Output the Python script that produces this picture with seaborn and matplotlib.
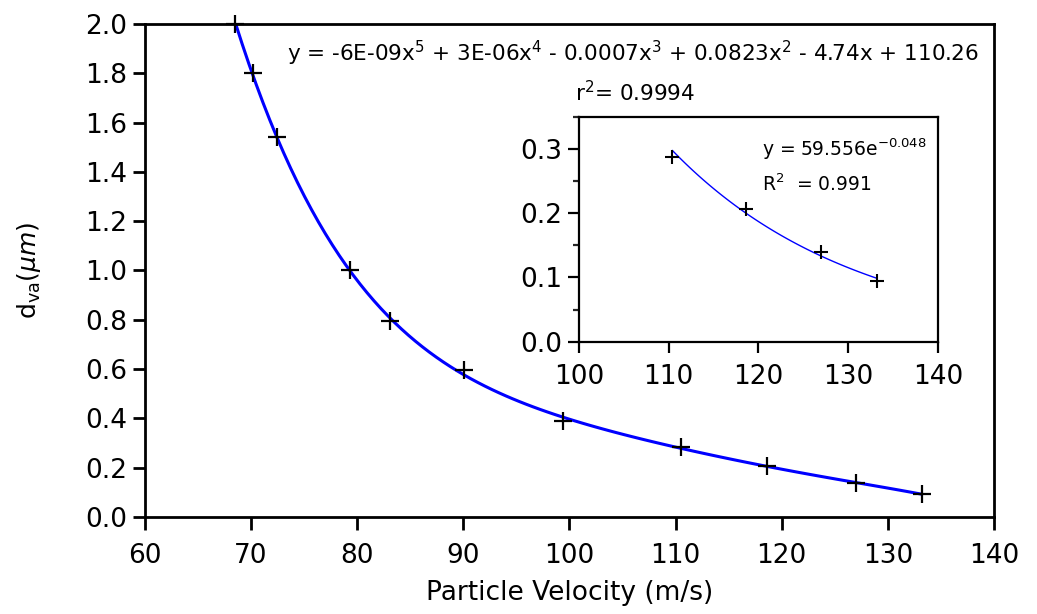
import numpy as np
import pandas as pd
import matplotlib
matplotlib.use("Agg")
import matplotlib.pyplot as plt
from matplotlib.ticker import MultipleLocator
import seaborn as sns

# ---- data ----
velocity = [68.5, 70.2, 72.4, 79.3, 83.1, 90.1, 99.4, 110.5, 118.6, 127.0, 133.2]
dva = [2.0, 1.80, 1.54, 1.0, 0.795, 0.595, 0.39, 0.285, 0.205, 0.138, 0.093]
inset_velocity = [110.4, 118.6, 127.0, 133.2]
inset_dva = [0.288, 0.206, 0.140, 0.094]

main_eq = (r"y = -6E-09x$^{5}$ + 3E-06x$^{4}$ - 0.0007x$^{3}$ + 0.0823x$^{2}$"
           r" - 4.74x + 110.26")
main_r2 = r"r$^{2}$= 0.9994"
inset_eq = r"y = 59.556e$^{-0.048}$"
inset_r2 = r"R$^{2}$  = 0.991"

sns.set_theme(style="ticks")
plt.rcParams["font.family"] = ["DejaVu Sans"]
plt.rcParams["mathtext.fontset"] = "dejavusans"
plt.rcParams["mathtext.default"] = "regular"
plt.rcParams["text.color"] = "black"
plt.rcParams["axes.labelcolor"] = "black"

fig = plt.figure(figsize=(10.37, 6.14), dpi=100)
ax = fig.add_axes([0.1398, 0.158, 0.8187, 0.803])

df = pd.DataFrame({"v": velocity, "d": dva})
sns.regplot(data=df, x="v", y="d", order=5, ci=None, scatter=False, truncate=True,
            line_kws=dict(color="#0000ff", lw=2.2), ax=ax)
sns.scatterplot(data=df, x="v", y="d", marker="+", s=150, color="black",
                linewidth=1.6, ax=ax, zorder=5, clip_on=False)

ax.set_xlim(60, 140)
ax.set_ylim(0, 2.0)
ax.xaxis.set_major_locator(MultipleLocator(10))
ax.yaxis.set_major_locator(MultipleLocator(0.2))
ax.yaxis.set_major_formatter(matplotlib.ticker.FormatStrFormatter("%.1f"))
for s in ax.spines.values():
    s.set_linewidth(2.0)
    s.set_color("black")
ax.tick_params(axis="both", direction="out", length=9, width=2, labelsize=19,
               colors="black", pad=4)
ax.tick_params(axis="x", pad=10)
ax.set_xlabel("Particle Velocity (m/s)", fontsize=19, labelpad=8)
ax.set_ylabel(r"d$_{va}$($\mathit{\mu m}$)", fontsize=18, labelpad=30)

ax.text(0.575, 0.94, main_eq, transform=ax.transAxes, fontsize=15.5,
        ha="center", va="center")
ax.text(0.506, 0.86, main_r2, transform=ax.transAxes, fontsize=15.5,
        ha="left", va="center")

# ---- inset ----
ins = fig.add_axes([0.5583, 0.4435, 0.3462, 0.3665])
b, ln_a = np.polyfit(inset_velocity, np.log(inset_dva), 1)
xs = np.linspace(min(inset_velocity), max(inset_velocity), 100)
sns.lineplot(x=xs, y=np.exp(ln_a) * np.exp(b * xs), color="#0000ff", lw=1.0, ax=ins)
sns.scatterplot(x=inset_velocity, y=inset_dva, marker="+", s=100, color="black",
                linewidth=1.5, ax=ins, zorder=5)
ins.set_xlim(100, 140)
ins.set_ylim(0, 0.35)
ins.xaxis.set_major_locator(MultipleLocator(10))
ins.yaxis.set_major_locator(MultipleLocator(0.1))
ins.yaxis.set_minor_locator(MultipleLocator(0.05))
ins.yaxis.set_major_formatter(matplotlib.ticker.FormatStrFormatter("%.1f"))
for s in ins.spines.values():
    s.set_linewidth(1.6)
    s.set_color("black")
ins.tick_params(axis="both", which="major", direction="out", length=8, width=1.6,
                labelsize=19, colors="black", pad=4)
ins.tick_params(axis="x", which="major", pad=8)
ins.tick_params(axis="y", which="minor", direction="out", length=4, width=1.6)
ins.text(0.51, 0.855, inset_eq, transform=ins.transAxes, fontsize=13.5,
         ha="left", va="center")
ins.text(0.51, 0.70, inset_r2, transform=ins.transAxes, fontsize=13.5,
         ha="left", va="center")

fig.savefig("out.png", dpi=100)
